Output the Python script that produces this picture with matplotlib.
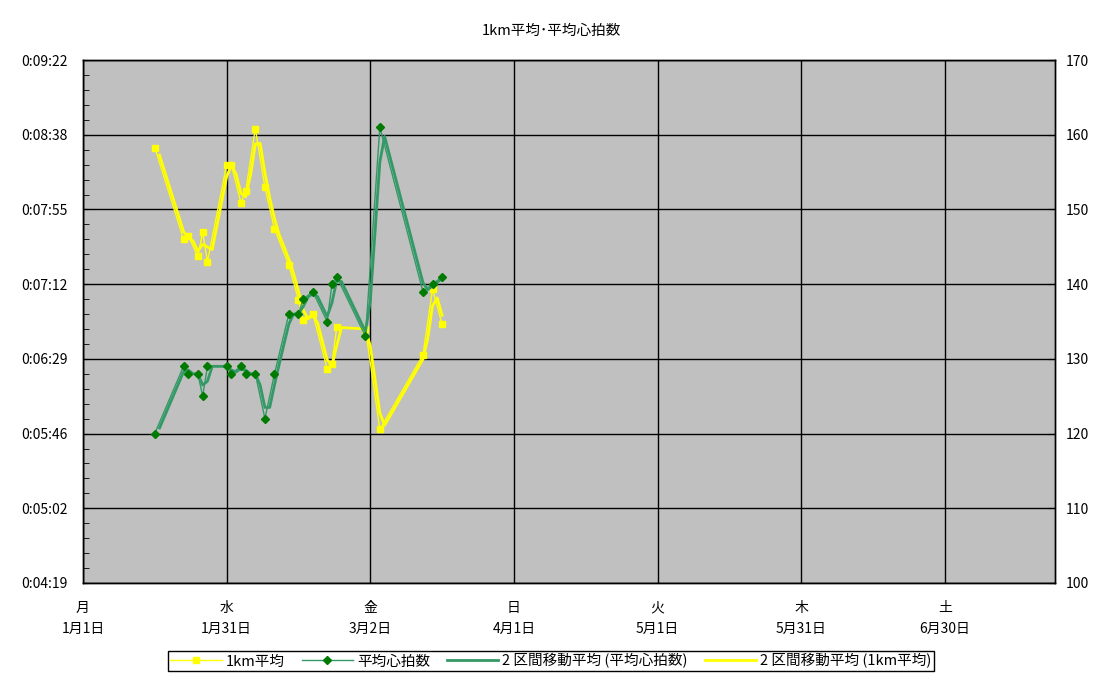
import numpy as np
import matplotlib
matplotlib.use('Agg')
import matplotlib.pyplot as plt
from matplotlib.ticker import AutoMinorLocator

plt.rcParams['font.family'] = ['Noto Sans CJK JP', 'DejaVu Sans']

# データ（2007年1月1日からの日数）
days = [15, 21, 22, 24, 25, 26, 30, 31, 33, 34, 36, 38, 40, 43, 45, 46, 48,
        51, 52, 53, 59, 62, 71, 73, 75]
# 1km平均（秒）
pace_sec = [511, 458, 460, 448, 462, 445, 501, 501, 479, 486, 522, 488, 464,
            443, 423, 411, 415, 383, 386, 407, 406, 348, 391, 429, 409]
# 平均心拍数
heart = [120, 129, 128, 128, 125, 129, 129, 128, 129, 128, 128, 122, 128,
         136, 136, 138, 139, 135, 140, 141, 133, 161, 139, 140, 141]

x_ticks = [0, 30, 60, 90, 120, 150, 180]
x_labels = ['月\n1月1日', '水\n1月31日', '金\n3月2日', '日\n4月1日',
            '火\n5月1日', '木\n5月31日', '土\n6月30日']
y_ticks = [259.2, 302.4, 345.6, 388.8, 432.0, 475.2, 518.4, 561.6]
y_labels = ['0:04:19', '0:05:02', '0:05:46', '0:06:29', '0:07:12',
            '0:07:55', '0:08:38', '0:09:22']
hr_ticks = [100, 110, 120, 130, 140, 150, 160, 170]

YELLOW = '#ffff00'
GREEN = '#339966'
DGREEN = '#007a00'


def moving_avg(d, v):
    # 日単位に補間してから2区間移動平均
    grid = np.arange(d[0], d[-1] + 1)
    f = np.interp(grid, d, v)
    return grid[1:], (f[1:] + f[:-1]) / 2


fig = plt.figure(figsize=(11.03, 6.79), dpi=100)
ax = fig.add_axes([0.0752, 0.1414, 0.8813, 0.7702])
ax.set_facecolor('#c0c0c0')
ax2 = ax.twinx()

# 1km平均
l1, = ax.plot(days, pace_sec, color=YELLOW, lw=1, marker='s', ms=5,
              mec=YELLOW, mfc=YELLOW, label='1km平均', zorder=3)
mx, my = moving_avg(days, pace_sec)
l4, = ax.plot(mx, my, color=YELLOW, lw=2, label='2 区間移動平均 (1km平均)', zorder=2)

# 平均心拍数
l2, = ax2.plot(days, heart, color=GREEN, lw=1, marker='D', ms=4,
               mec=DGREEN, mfc=DGREEN, label='平均心拍数', zorder=3)
hx, hy = moving_avg(days, heart)
l3, = ax2.plot(hx, hy, color=GREEN, lw=2, label='2 区間移動平均 (平均心拍数)', zorder=2)

ax.set_xlim(0, 203)
ax.set_xticks(x_ticks)
ax.set_xticklabels(x_labels, fontsize=10, linespacing=1.6)
ax.set_ylim(259.2, 561.6)
ax.set_yticks(y_ticks)
ax.set_yticklabels(y_labels, fontsize=10)
ax.yaxis.set_minor_locator(AutoMinorLocator(5))
ax.tick_params(axis='y', which='both', direction='in', pad=11)
ax.tick_params(axis='y', which='minor', length=4)
ax.tick_params(axis='x', length=0, pad=13)
ax.grid(True, color='black', lw=1)
ax.set_axisbelow(True)

ax2.set_ylim(100, 170)
ax2.set_yticks(hr_ticks)
ax2.set_yticklabels([str(t) for t in hr_ticks], fontsize=10)
ax2.tick_params(axis='y', direction='in', length=5, pad=8)

for a in (ax, ax2):
    for s in a.spines.values():
        s.set_color('black')
        s.set_linewidth(1)

fig.text(0.4995, 0.955, '1km平均･平均心拍数', ha='center', va='center', fontsize=10.5)

fig.legend([l1, l2, l3, l4], [h.get_label() for h in (l1, l2, l3, l4)],
           loc='center', bbox_to_anchor=(0.4995, 0.0265), ncol=4,
           fontsize=10.5, frameon=True, fancybox=False, edgecolor='black',
           framealpha=1, handlelength=3.5, columnspacing=1.15, borderpad=0.2,
           handletextpad=0.3)

fig.savefig('out.png', dpi=100)
